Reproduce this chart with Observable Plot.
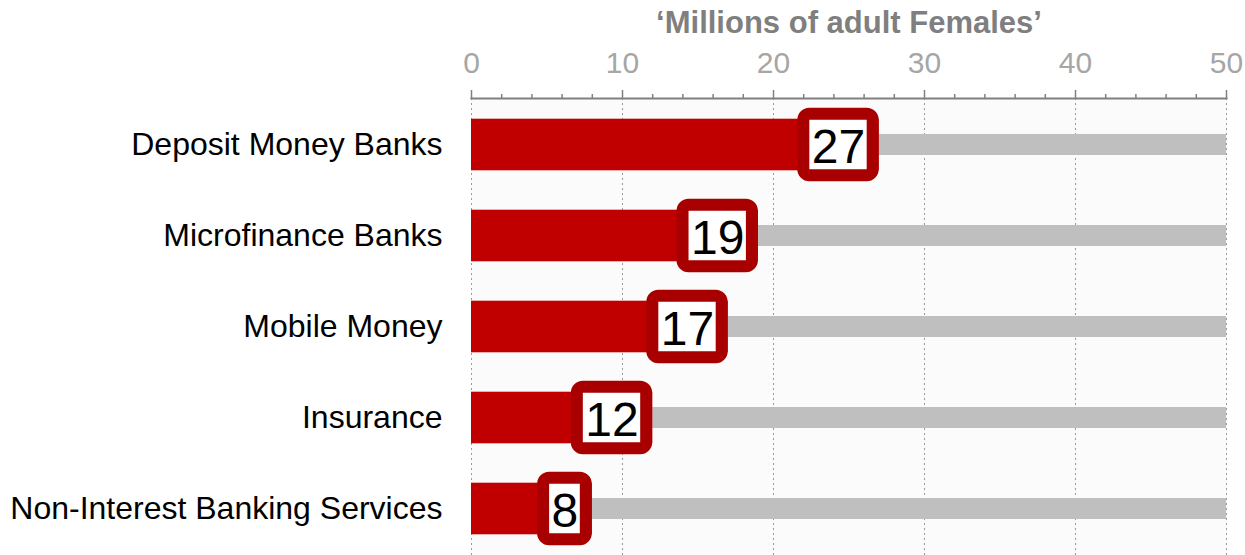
<!DOCTYPE html>
<html>
<head>
<meta charset="utf-8">
<script src="https://cdn.jsdelivr.net/npm/d3@7"></script>
<script src="https://cdn.jsdelivr.net/npm/@observablehq/plot@0.6"></script>
<style>
  html, body { margin: 0; padding: 0; background: #ffffff; }
  svg { display: block; font-family: Arial, "Liberation Sans", sans-serif; }
</style>
</head>
<body>
<div id="chart"></div>
<script>
const categories = ["Deposit Money Banks", "Microfinance Banks", "Mobile Money", "Insurance", "Non-Interest Banking Services"];
const values = [27, 19, 17, 12, 8];
const axisMax = 50;
const majorTicks = [0, 10, 20, 30, 40, 50];
const minorTicks = [2, 4, 6, 8, 12, 14, 16, 18, 22, 24, 26, 28, 32, 34, 36, 38, 42, 44, 46, 48];
const title = "\u2018Millions of adult Females\u2019";

const data = categories.map((c, i) => ({category: c, value: values[i], max: axisMax}));

const W = 1245, H = 555, mL = 471, mR = 19, mT = 98, mB = 0;
const k = (W - mL - mR) / axisMax; // px per unit
const fs = 48;
const digitW = 0.556 * fs;
const boxW = d => String(d.value).length * digitW + 28;

const chart = Plot.plot({
  width: W,
  height: H,
  marginLeft: mL,
  marginRight: mR,
  marginTop: mT,
  marginBottom: mB,
  style: {fontFamily: "Arial, 'Liberation Sans', sans-serif", background: "#ffffff", overflow: "visible"},
  x: {domain: [0, axisMax], axis: null},
  y: {domain: categories, padding: 0, axis: null},
  marks: [
    Plot.frame({fill: "#fbfbfb", stroke: null}),
    Plot.gridX({ticks: majorTicks, stroke: "#9a9a9a", strokeOpacity: 1, strokeDasharray: "2,3", strokeWidth: 1}),
    Plot.barX(data, {x1: "value", x2: "max", y: "category", fill: "#bfbfbf", insetTop: 35, insetBottom: 35}),
    Plot.barX(data, {x1: 0, x2: "value", y: "category", fill: "#c00000", insetTop: 19.7, insetBottom: 19.7}),
    Plot.barX(data, {
      x1: d => d.value - boxW(d) / k, x2: "value", y: "category",
      fill: "#ffffff", stroke: "#a80000", strokeWidth: 12, rx: 6,
      insetLeft: 6, insetRight: 6, insetTop: 14.7, insetBottom: 14.7
    }),
    Plot.text(data, {
      x: "value", y: "category", text: d => String(d.value),
      fontSize: fs, fill: "#000000",
      textAnchor: "end", dx: -14, dy: 3
    }),
    Plot.axisX({anchor: "top", ticks: minorTicks, tickSize: 5, tickFormat: () => "", stroke: "#808080", strokeWidth: 1.5, label: null}),
    Plot.axisX({anchor: "top", ticks: majorTicks, tickSize: 9, tickPadding: 17, fontSize: 30, fill: "#a6a6a6", stroke: "#808080", strokeWidth: 1.5, label: null}),
    Plot.frame({anchor: "top", stroke: "#808080", strokeWidth: 2}),
    Plot.axisY({anchor: "left", tickSize: 0, tickPadding: 29, fontSize: 32, fill: "#000000", label: null}),
    Plot.text([title], {frameAnchor: "top", lineAnchor: "bottom", dy: -66, fontSize: 31, fontWeight: "bold", fill: "#7f7f7f"})
  ]
});
document.getElementById("chart").appendChild(chart);
</script>
</body>
</html>
